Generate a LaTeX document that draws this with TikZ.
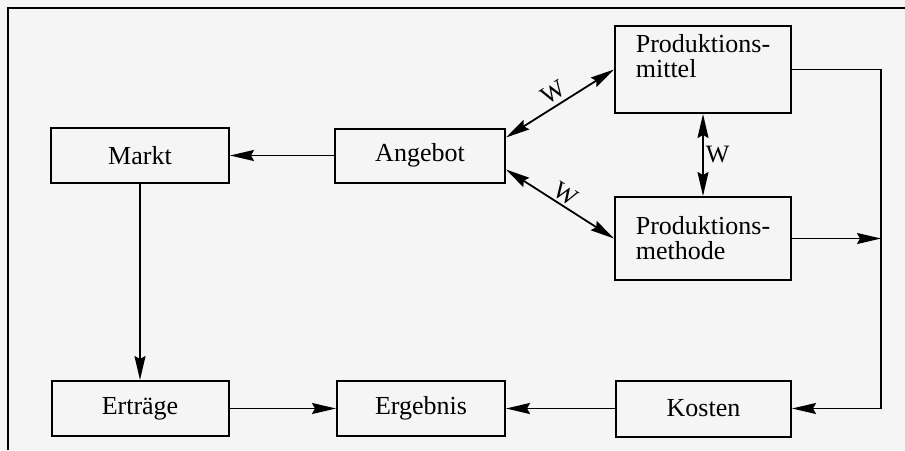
\documentclass[tikz,border=0pt]{standalone}
\usepackage{fontspec}
\setmainfont{Liberation Serif}
\usetikzlibrary{arrows.meta,calc}
\begin{document}
\begin{tikzpicture}[x=1pt,y=-1pt,
  box/.style={draw, line width=2pt, rectangle, minimum width=#1, inner sep=0pt, align=left,
    font=\fontsize{26}{25}\selectfont},
  conn/.style={line width=1.8pt, -{Stealth[length=24pt,width=11pt,inset=3pt]}},
  both/.style={line width=1.8pt, {Stealth[length=24pt,width=11pt,inset=3pt]}-{Stealth[length=24pt,width=11pt,inset=3pt]}},
  lab/.style={font=\fontsize{25}{25}\selectfont, inner sep=2pt}]
\fill[gray!8] (0,0) rectangle (905,450);
\useasboundingbox (0,0) rectangle (905,450);
\draw[line width=1.5pt] (8,450) -- (8,8) -- (905,8);
\node[box=178pt, minimum height=55pt] (markt) at (140,155.5) {Markt};
\node[box=170pt, minimum height=54pt] (angebot) at (420,155.5) {Angebot};
\node[box=176pt, minimum height=87pt] (pmittel) at (703,69.5) {Produktions-\\mittel\\[2pt]};
\node[box=176pt, minimum height=83pt] (pmethode) at (703,238.5) {Produktions-\\methode};
\node[box=175pt, minimum height=56pt] (kosten) at (703.5,408.5) {Kosten};
\node[box=168pt, minimum height=55pt] (ergebnis) at (421,408.5) {Ergebnis};
\node[box=177pt, minimum height=55pt] (ertraege) at (140,408.5) {Erträge};
\coordinate (rail) at (881,0);
\draw[conn] (angebot.west) -- (markt.east);
\draw[conn] (markt.south) -- (ertraege.north);
\draw[conn] (ertraege.east) -- (ergebnis.west);
\draw[conn] (kosten.west) -- (ergebnis.east);
\draw[conn] (pmittel.east) -- (pmittel.east -| rail) -- (kosten.east -| rail) -- (kosten.east);
\draw[conn] (pmethode.east) -- (pmethode.east -| rail);
\draw[both] (pmittel.south) -- node[lab, right] {W} (pmethode.north);
\draw[both] ([yshift=-10pt]angebot.north east) -- node[lab, sloped, above=2pt] {W} (pmittel.west);
\draw[both] ([yshift=14pt]angebot.south east) -- node[lab, sloped, above=0pt] {W} (pmethode.west);
\end{tikzpicture}
\end{document}
